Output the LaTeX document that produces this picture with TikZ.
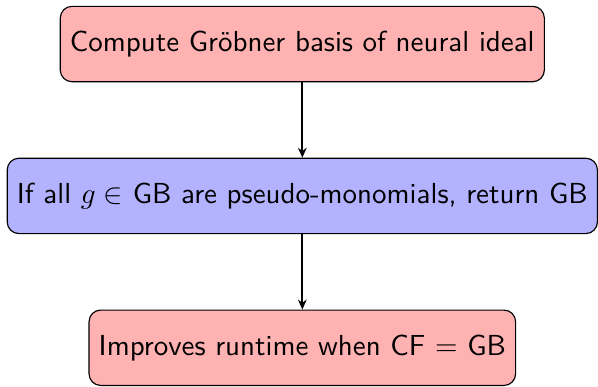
\documentclass[tikz,border=0pt]{standalone}
\usetikzlibrary{arrows.meta,positioning}
\renewcommand{\familydefault}{\sfdefault}
\begin{document}
\begin{tikzpicture}[
  box/.style={draw, rounded corners, minimum height=26pt, font=\sffamily},
  redbox/.style={box, fill=red!30},
  bluebox/.style={box, fill=blue!30},
  conn/.style={-{Stealth[length=3.4pt,width=3pt]}, semithick},
  node distance=26pt
]
\node[redbox] (top) {Compute Gröbner basis of neural ideal};
\node[bluebox, below=of top] (mid) {If all $g \in$ GB are pseudo-monomials, return GB};
\node[redbox, below=of mid] (bot) {Improves runtime when CF $=$ GB};
\draw[conn] (top) -- (mid);
\draw[conn] (mid) -- (bot);
\useasboundingbox ([xshift=-2.3pt]mid.west |- top.north) ++(0,2pt) rectangle ([xshift=-1.4pt,yshift=0.9pt]mid.east |- bot.south);
\end{tikzpicture}
\end{document}
